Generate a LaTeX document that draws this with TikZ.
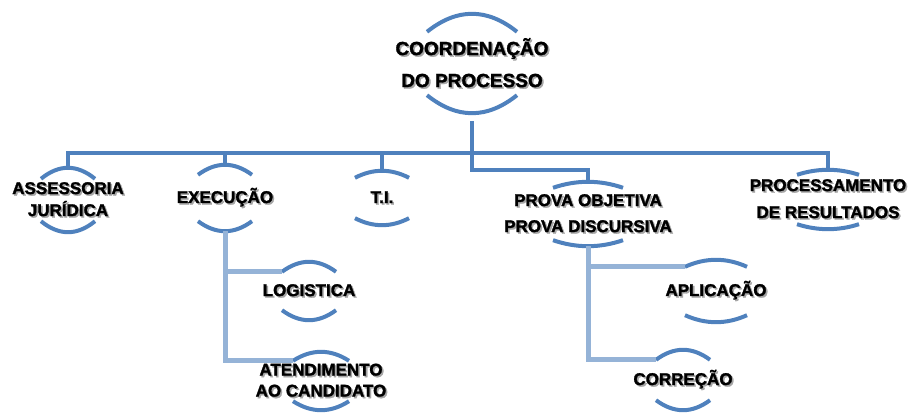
\documentclass[tikz,border=0pt]{standalone}
\usepackage{fontspec}
\setmainfont{Liberation Sans}[BoldFeatures={FakeBold=1.6}]
\usetikzlibrary{positioning}
\definecolor{ringblue}{RGB}{79,129,189}
\definecolor{lightblue}{RGB}{149,179,215}
\newcommand{\shd}[1]{\rlap{\kern1.6pt\raisebox{-1.6pt}{\textcolor{black!35}{#1}}}#1}

\begin{document}
\begin{tikzpicture}[x=1pt,y=1pt,
    box/.style={inner sep=0pt, align=center,
        font=\bfseries\fontsize{17}{22}\selectfont},
    ringarc/.style={draw=ringblue, line width=4pt},
    mainline/.style={draw=ringblue, line width=4pt},
    subline/.style={draw=lightblue, line width=5pt}]
    \useasboundingbox (0,0) rectangle (909,414);
    \node[box, minimum height=99, font=\bfseries\fontsize{19}{32}\selectfont] (coord) at (472,350.5)
        {\shd{COORDENAÇÃO}\\\shd{DO PROCESSO}};
    \node[box, minimum height=64] (assess) at (68,214) {\shd{ASSESSORIA}\\\shd{JURÍDICA}};
    \node[box, minimum height=66] (exec) at (225,216) {\shd{EXECUÇÃO}};
    \node[box, minimum height=54] (ti) at (382,216) {\shd{T.I.}};
    \node[box, minimum height=64, font=\bfseries\fontsize{17}{26}\selectfont] (prova) at (588,200)
        {\shd{PROVA OBJETIVA}\\\shd{PROVA DISCURSIVA}};
    \node[box, minimum height=59, font=\bfseries\fontsize{17}{27}\selectfont] (proc) at (828,214.5)
        {\shd{PROCESSAMENTO}\\\shd{DE RESULTADOS}};
    \node[box, minimum height=58] (logi) at (309,123) {\shd{LOGISTICA}};
    \node[box, minimum height=58, font=\bfseries\fontsize{17}{21}\selectfont] (atend) at (321,33)
        {\shd{ATENDIMENTO}\\\shd{AO CANDIDATO}};
    \node[box, minimum height=62] (aplic) at (716,123) {\shd{APLICAÇÃO}};
    \node[box, minimum height=60] (corr) at (683,34) {\shd{CORREÇÃO}};

    % arcs above and below each label
    \foreach \n/\w/\s in {coord/45/18, assess/27/11, exec/27/10, ti/27/7, prova/35/6,
                          proc/31/5, logi/27/10, atend/28/9, aplic/31/7, corr/27/10}{
        \draw[ringarc] ([shift={(-\w,-\s)}]\n.north)
            .. controls ([shift={(-\w/3,\s/3)}]\n.north) and ([shift={(\w/3,\s/3)}]\n.north)
            .. ([shift={(\w,-\s)}]\n.north);
        \draw[ringarc] ([shift={(-\w,\s)}]\n.south)
            .. controls ([shift={(-\w/3,-\s/3)}]\n.south) and ([shift={(\w/3,-\s/3)}]\n.south)
            .. ([shift={(\w,\s)}]\n.south);
        \coordinate (\n-tl) at ([shift={(-\w,-\s)}]\n.north);
    }

    \coordinate (bus) at (0,261);
    \coordinate (split) at ([yshift=12]prova.north);
    \draw[mainline] (assess.north) -- (assess.north |- bus) -- (proc.north |- bus) -- (proc.north);
    \draw[mainline] (exec.north) -- (exec.north |- bus);
    \draw[mainline] (ti.north) -- (ti.north |- bus);
    \draw[mainline, shorten <=8pt] (coord.south) |- (split) -- (prova.north);

    \draw[subline] (exec.south) |- (logi-tl);
    \draw[subline] (exec.south) |- (atend-tl);
    \draw[subline] (prova.south) |- (aplic-tl);
    \draw[subline] (prova.south) |- (corr-tl);
\end{tikzpicture}
\end{document}
